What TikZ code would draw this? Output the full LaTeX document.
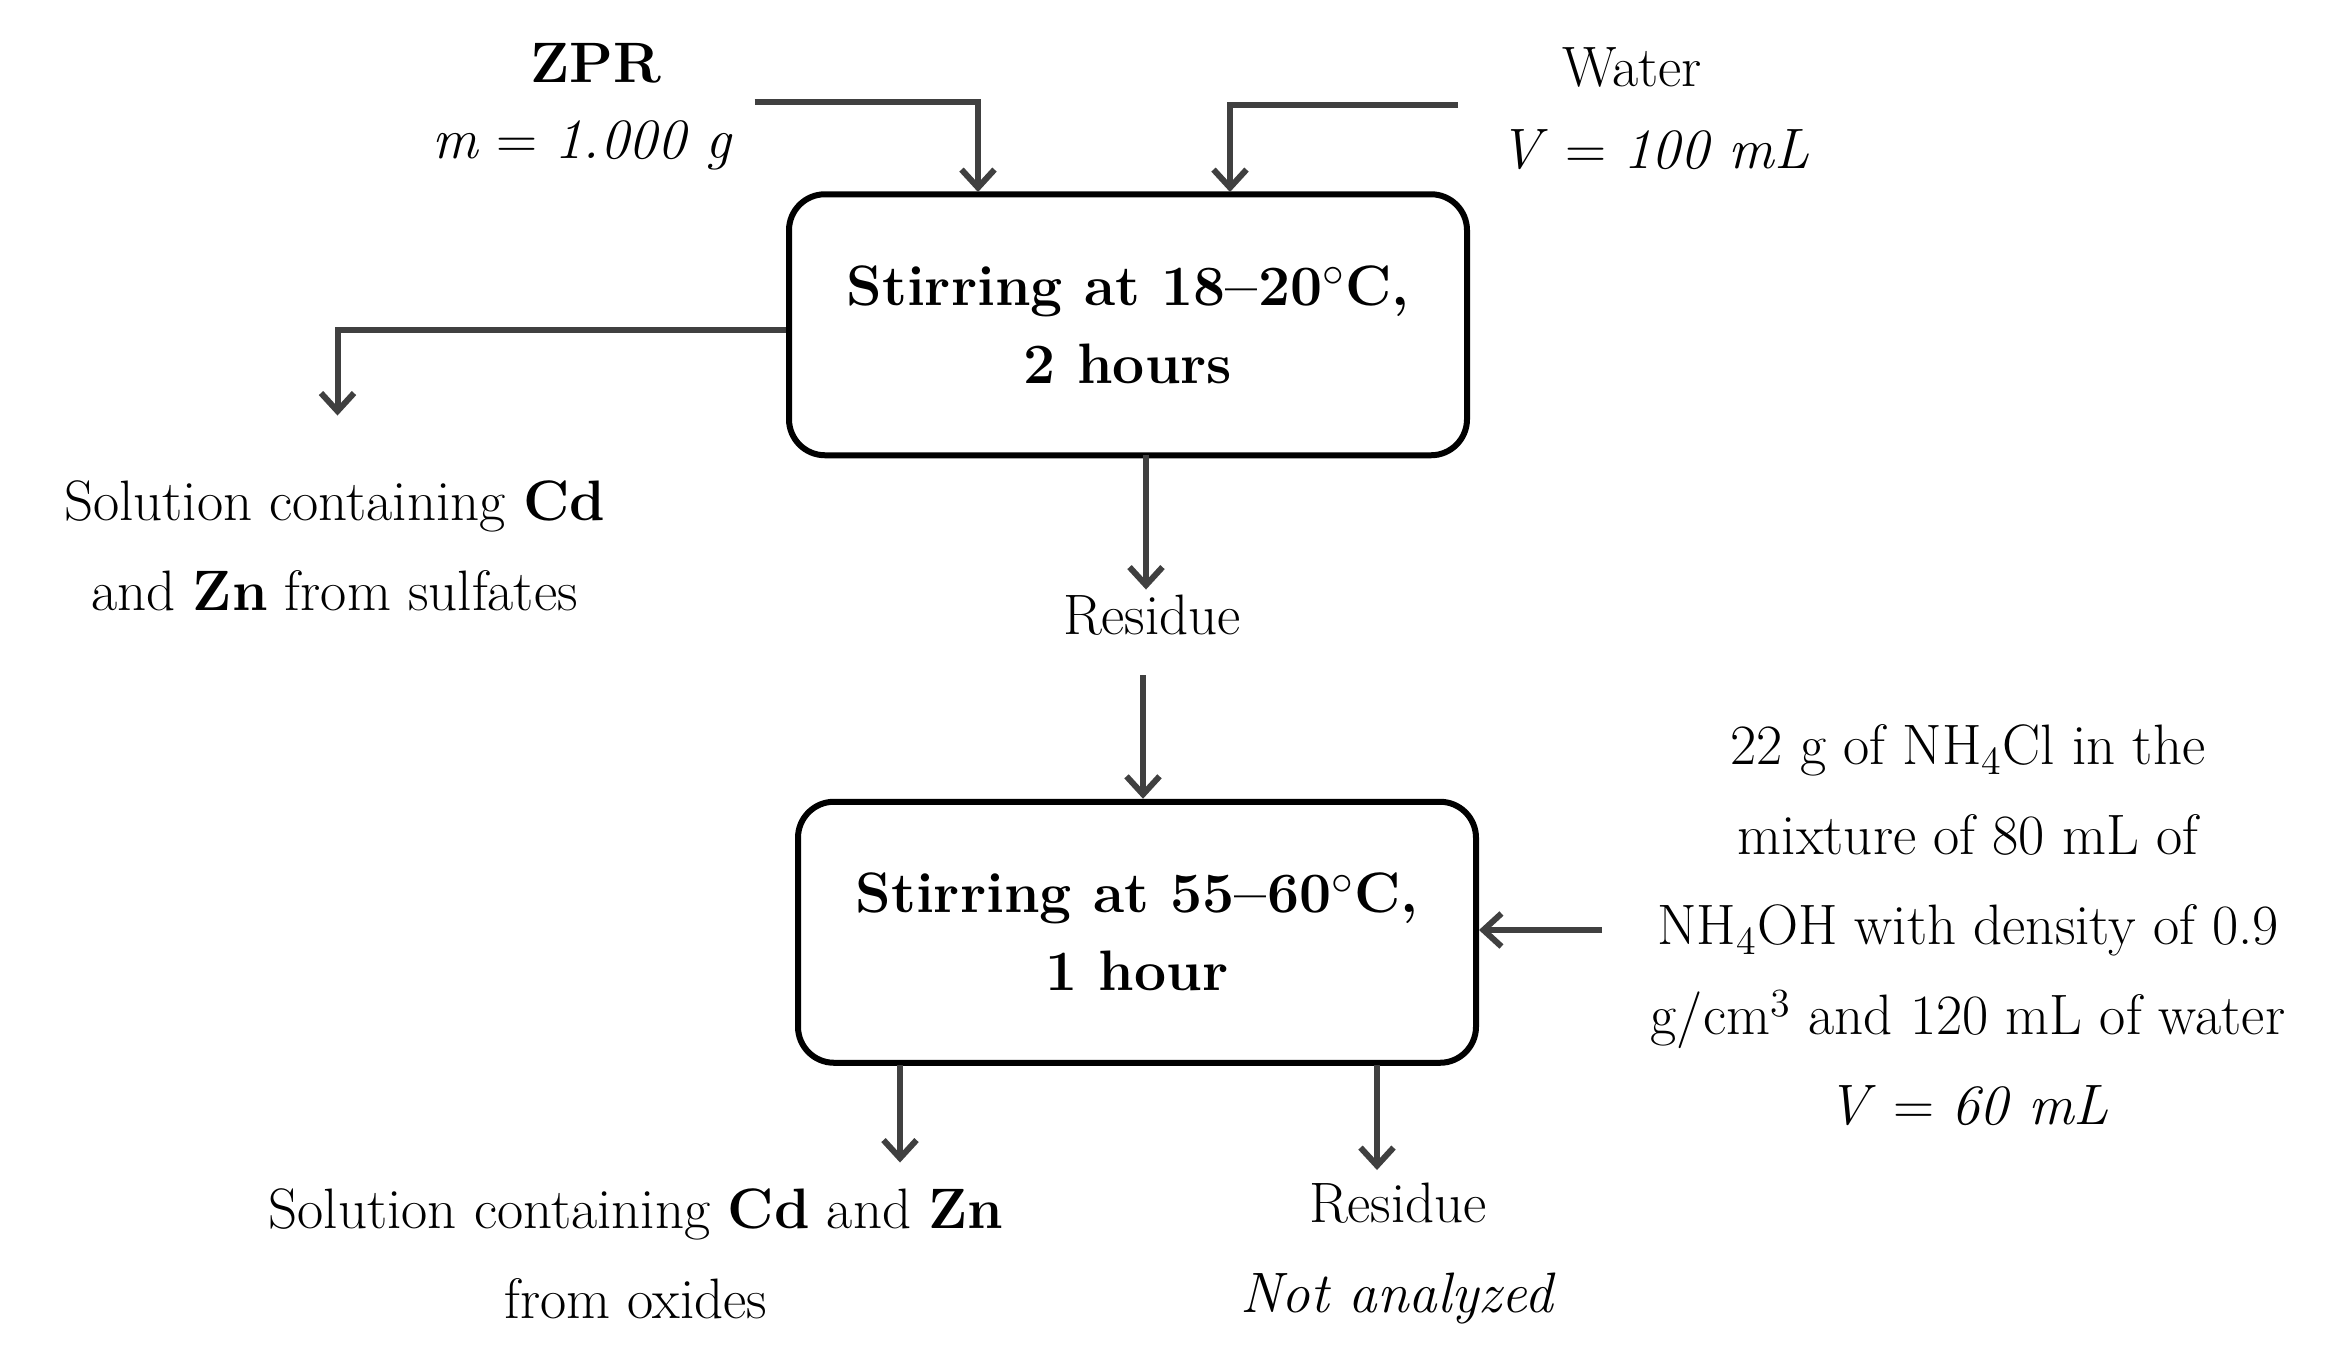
\documentclass[tikz,border=0pt]{standalone}
\usetikzlibrary{arrows.meta}
\definecolor{linegray}{RGB}{64,64,64}
\tikzset{every picture/.style={line width=2pt}}
\tikzset{
  stepbox/.style={draw=black,line width=2pt,rounded corners=12pt,minimum width=226pt,minimum height=87pt,align=center,font=\fontsize{19}{26}\selectfont\bfseries},
  txt/.style={inner sep=0.75pt,align=center,font=\fontsize{19}{30}\selectfont},
  flow/.style={draw=linegray,line width=2pt,-{Straight Barb[length=6pt,width=11pt]}}
}
\begin{document}
\begin{tikzpicture}[x=0.5pt,y=0.5pt,yscale=-1,xscale=1]
\useasboundingbox (0,0) rectangle (1564,902);

% Process boxes
\node[stepbox] (stirA) at (752,216.5) {Stirring at 18--20$^\circ$C,\\2 hours};
\node[stepbox] (stirB) at (758,621.5) {Stirring at 55--60$^\circ$C,\\1 hour};

% Text Node
\node[txt] (zpr) at (397,42) {\textbf{ZPR}};
\node[txt,anchor=east] (zprm) at (492,97) {\textit{m} = \textit{1.000 g}};
\node[txt] (water) at (1088,45) {Water};
\node[txt,anchor=west] (waterv) at (996,100) {\textit{V} = \textit{100 mL}};
\node[txt] (solA) at (223,364) {Solution containing \textbf{Cd}\\and \textbf{Zn} from sulfates};
\node[txt] (resA) at (768,410) {Residue};
\node[txt] (reagent) at (1312,617) {22 g of NH\textsubscript{4}Cl in the\\mixture of 80 mL of\\NH\textsubscript{4}OH with density of 0.9\\g/cm\textsuperscript{3} and 120 mL of water\\\textit{V} = \textit{60 mL}};
\node[txt] (solB) at (424,836) {Solution containing \textbf{Cd} and \textbf{Zn}\\from oxides};
\node[txt] (resB) at (932,836) {Residue\\\textit{Not analyzed}};

% Connectors
\coordinate (zprEnd) at (503,68);
\coordinate (waterEnd) at (972,70);
\coordinate (reagentEnd) at (1068,620);
\draw[flow] (zprEnd) -- (652,68) -- (652,128);
\draw[flow] (waterEnd) -- (820,70) -- (820,128);
\draw[flow] (stirA.west |- 0,220) -- (225,220) -- (225,277);
\draw[flow] (764,303) -- (resA.north -| 764,0);
\draw[flow] (resA.south -| 762,0) ++(0,23) -- (stirB.north -| 762,0);
\draw[flow] (reagentEnd) -- (stirB.east |- 0,620);
\draw[flow] (600,710) -- (600,775);
\draw[flow] (918,710) -- (918,780);
\end{tikzpicture}
\end{document}
